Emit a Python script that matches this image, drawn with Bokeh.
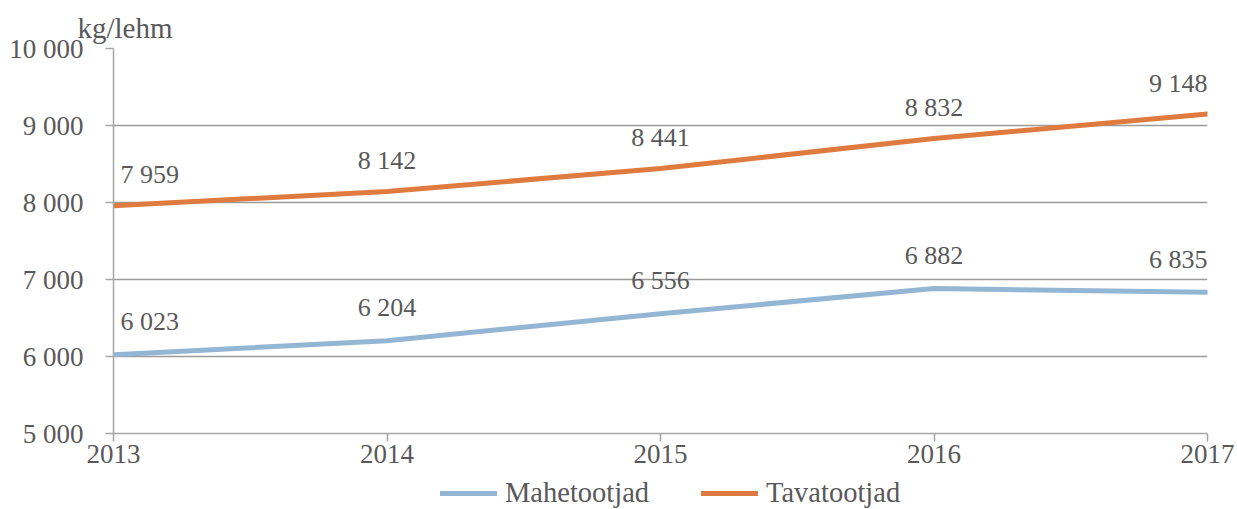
from bokeh.plotting import figure
from bokeh.layouts import column
from bokeh.models import (ColumnDataSource, Legend, LegendItem, Title,
                          FixedTicker, CustomJSTickFormatter, Range1d)
from bokeh.core.properties import value
from bokeh.embed import file_html
from bokeh.resources import INLINE

years = [2013, 2014, 2015, 2016, 2017]
mahe = [6023, 6204, 6556, 6882, 6835]
tava = [7959, 8142, 8441, 8832, 9148]
series_names = ["Mahetootjad", "Tavatootjad"]
y_ticks = [5000, 6000, 7000, 8000, 9000, 10000]
unit_label = "kg/lehm"

FONT = "Liberation Serif"
TXT = "#595959"
BLUE = "#94B6D5"
ORANGE = "#E07B3F"

W = 1237
p = figure(width=W, height=475, output_backend="svg", toolbar_location=None,
           x_range=Range1d(2013, 2017), y_range=Range1d(5000, 10000),
           min_border_left=113, min_border_right=30, min_border_top=48,
           min_border_bottom=42,
           title=Title(text=unit_label, align="left", offset=-36, standoff=10,
                       text_font=FONT, text_font_size="29px",
                       text_font_style="normal", text_color=TXT))
p.outline_line_color = None
p.background_fill_color = "white"
p.border_fill_color = "white"

# grid
p.xgrid.visible = False
p.ygrid.ticker = FixedTicker(ticks=y_ticks)
p.ygrid.grid_line_color = "#9A9A9A"
p.ygrid.grid_line_width = 1.5

fmt = CustomJSTickFormatter(code="""
const s = Math.round(tick).toString();
return s.replace(/\\B(?=(\\d{3})+(?!\\d))/g, ' ');
""")

for ax in (p.xaxis[0], p.yaxis[0]):
    ax.axis_line_color = "#A6A6A6"
    ax.axis_line_width = 1.5
    ax.major_tick_line_color = "#A6A6A6"
    ax.major_tick_line_width = 1.5
    ax.minor_tick_line_color = None
    ax.major_tick_in = 0
    ax.major_tick_out = 8
    ax.major_label_text_font = FONT
    ax.major_label_text_font_size = "27px"
    ax.major_label_text_color = TXT

p.xaxis.ticker = FixedTicker(ticks=years)
p.xaxis.major_label_standoff = 3
p.yaxis.ticker = FixedTicker(ticks=y_ticks)
p.yaxis.formatter = fmt
p.yaxis.major_label_standoff = 22

p.line(years, mahe, line_color=BLUE, line_width=5, line_cap="round")
p.line(years, tava, line_color=ORANGE, line_width=5, line_cap="round")

def fmt_num(v):
    return f"{v:,}".replace(",", " ")

align = ["left", "center", "center", "center", "right"]
xoff = [7, 0, 0, 0, 0]
for vals, yo in ((mahe, -33), (tava, -31)):
    src = ColumnDataSource(dict(x=years, y=vals, t=[fmt_num(v) for v in vals],
                                a=align, xo=xoff))
    p.text(x="x", y="y", text="t", source=src, text_align="a",
           text_baseline="middle", x_offset="xo", y_offset=yo,
           text_font=value(FONT), text_font_size="26px", text_color=TXT)

# legend strip (its frame is aligned with the main frame by the column)
lg = figure(width=W, height=34, output_backend="svg", toolbar_location=None,
            x_range=Range1d(0, 1), y_range=Range1d(0, 1),
            min_border_left=0, min_border_right=0, min_border_top=0,
            min_border_bottom=0)
lg.axis.visible = False
lg.grid.visible = False
lg.outline_line_color = None
# proxies: the series' own data lies outside this strip's ranges (clipped)
l1 = lg.line(years, mahe, line_color=BLUE, line_width=5, line_cap="round")
l2 = lg.line(years, tava, line_color=ORANGE, line_width=5, line_cap="round")
legend = Legend(items=[LegendItem(label=series_names[0], renderers=[l1]),
                       LegendItem(label=series_names[1], renderers=[l2])],
                orientation="horizontal", location=(327, 0),
                label_text_font=FONT, label_text_font_size="28.5px",
                label_text_color=TXT, glyph_width=57, glyph_height=16,
                label_height=16, label_standoff=8, spacing=52,
                padding=0, margin=0,
                border_line_color=None, background_fill_alpha=0)
lg.add_layout(legend, "center")

layout = column(p, lg, spacing=0)
open("out.html", "w").write(file_html(layout, INLINE))
